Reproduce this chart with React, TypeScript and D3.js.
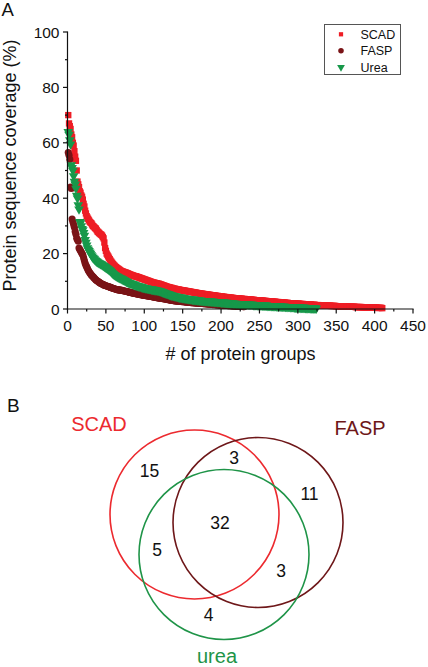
import React from "react";
import * as d3 from "d3";

// ---------------- DATA ----------------
const seriesNames = ["SCAD", "FASP", "Urea"];

const scadCoverage = [
  70, 67, 66, 65, 63, 62, 60, 59, 57, 55,
  53.5, 50, 46, 45, 44, 42.5, 42, 41, 40.5, 39.5,
  38, 37, 35.5, 34.5, 33.5, 33, 32.5, 32, 31.5, 31.2,
  31, 30.5, 30, 29.8, 29.5, 29.2, 29, 28.5, 28, 27.8,
  27.5, 27.2, 27, 26.8, 26.5, 26, 25.5, 24, 22, 21,
  20, 19.5, 19, 18.5, 18, 17.5, 17.1, 16.7, 16.3, 16,
  15.7, 15.4, 15.1, 14.9, 14.7, 14.5, 14.3, 14.1, 13.9, 13.7,
  13.6, 13.5, 13.4, 13.3, 13.2, 13.1, 13, 12.9, 12.8, 12.6,
  12.5, 12.4, 12.3, 12.2, 12.1, 12, 11.9, 11.8, 11.8, 11.7,
  11.6, 11.5, 11.4, 11.3, 11.2, 11.1, 11, 10.9, 10.8, 10.7,
  10.6, 10.5, 10.4, 10.3, 10.2, 10.1, 10, 9.9, 9.8, 9.7,
  9.6, 9.5, 9.5, 9.4, 9.3, 9.3, 9.2, 9.1, 9.1, 9,
  8.9, 8.8, 8.7, 8.6, 8.5, 8.4, 8.3, 8.2, 8.1, 8,
  7.9, 7.9, 7.8, 7.7, 7.6, 7.6, 7.5, 7.4, 7.3, 7.3,
  7.2, 7.1, 7.1, 7, 7, 6.9, 6.9, 6.8, 6.8, 6.7,
  6.7, 6.6, 6.6, 6.5, 6.5, 6.4, 6.4, 6.3, 6.3, 6.2,
  6.2, 6.1, 6.1, 6, 6, 5.9, 5.9, 5.8, 5.8, 5.7,
  5.7, 5.6, 5.6, 5.5, 5.5, 5.5, 5.4, 5.4, 5.3, 5.3,
  5.3, 5.2, 5.2, 5.1, 5.1, 5.1, 5, 5, 4.9, 4.9,
  4.9, 4.8, 4.8, 4.7, 4.7, 4.7, 4.6, 4.6, 4.5, 4.5,
  4.5, 4.4, 4.4, 4.4, 4.3, 4.3, 4.3, 4.2, 4.2, 4.2,
  4.1, 4.1, 4.1, 4, 4, 4, 3.9, 3.9, 3.9, 3.9,
  3.8, 3.8, 3.8, 3.7, 3.7, 3.7, 3.7, 3.6, 3.6, 3.6,
  3.6, 3.5, 3.5, 3.5, 3.5, 3.4, 3.4, 3.4, 3.4, 3.3,
  3.3, 3.3, 3.3, 3.2, 3.2, 3.2, 3.2, 3.1, 3.1, 3.1,
  3.1, 3, 3, 3, 3, 2.9, 2.9, 2.9, 2.9, 2.8,
  2.8, 2.8, 2.8, 2.7, 2.7, 2.7, 2.7, 2.6, 2.6, 2.6,
  2.6, 2.5, 2.5, 2.5, 2.5, 2.4, 2.4, 2.4, 2.4, 2.3,
  2.3, 2.3, 2.3, 2.2, 2.2, 2.2, 2.2, 2.1, 2.1, 2.1,
  2.1, 2.1, 2, 2, 2, 2, 2, 1.9, 1.9, 1.9,
  1.9, 1.9, 1.8, 1.8, 1.8, 1.8, 1.8, 1.7, 1.7, 1.7,
  1.7, 1.7, 1.6, 1.6, 1.6, 1.6, 1.6, 1.5, 1.5, 1.5,
  1.5, 1.5, 1.4, 1.4, 1.4, 1.4, 1.4, 1.4, 1.3, 1.3,
  1.3, 1.3, 1.3, 1.3, 1.3, 1.2, 1.2, 1.2, 1.2, 1.2,
  1.2, 1.2, 1.1, 1.1, 1.1, 1.1, 1.1, 1.1, 1.1, 1,
  1, 1, 1, 1, 1, 1, 1, 0.9, 0.9, 0.9,
  0.9, 0.9, 0.9, 0.9, 0.9, 0.8, 0.8, 0.8, 0.8, 0.8,
  0.8, 0.8, 0.8, 0.8, 0.7, 0.7, 0.7, 0.7, 0.7, 0.7,
  0.7, 0.7, 0.7, 0.6, 0.6, 0.6, 0.6, 0.6, 0.6, 0.6,
  0.6, 0.6, 0.6, 0.5, 0.5, 0.5, 0.5, 0.5, 0.5, 0.5,
  0.5, 0.5, 0.4, 0.4, 0.4, 0.4, 0.4, 0.4, 0.4, 0.3,
];

const faspCoverage = [
  56.5, 55.5, 54, 44, 43.5, 32.5, 31.5, 30.5, 29.5, 28,
  27, 25.5, 25, 24.5, 22, 21.5, 21, 20.5, 20, 19.5,
  18.5, 17.5, 16.5, 15.8, 15.2, 14.6, 14, 13.5, 13.1, 12.7,
  12.3, 12, 11.7, 11.4, 11.1, 10.8, 10.5, 10.3, 10.1, 9.9,
  9.7, 9.5, 9.3, 9.1, 9, 8.9, 8.7, 8.6, 8.5, 8.4,
  8.3, 8.2, 8.1, 8, 7.9, 7.8, 7.7, 7.6, 7.5, 7.4,
  7.3, 7.2, 7.1, 7, 7, 6.9, 6.9, 6.8, 6.8, 6.7,
  6.7, 6.6, 6.6, 6.5, 6.4, 6.4, 6.3, 6.2, 6.2, 6.1,
  6, 6, 5.9, 5.8, 5.8, 5.7, 5.6, 5.6, 5.5, 5.4,
  5.4, 5.3, 5.3, 5.2, 5.2, 5.1, 5.1, 5, 5, 4.9,
  4.9, 4.8, 4.8, 4.7, 4.7, 4.6, 4.6, 4.5, 4.5, 4.4,
  4.4, 4.3, 4.3, 4.2, 4.2, 4.1, 4.1, 4, 4, 3.9,
  3.9, 3.8, 3.8, 3.7, 3.7, 3.6, 3.6, 3.5, 3.5, 3.4,
  3.4, 3.3, 3.3, 3.2, 3.2, 3.1, 3.1, 3, 3, 2.9,
  2.9, 2.9, 2.8, 2.8, 2.8, 2.7, 2.7, 2.7, 2.6, 2.6,
  2.6, 2.6, 2.5, 2.5, 2.5, 2.5, 2.4, 2.4, 2.4, 2.4,
  2.3, 2.3, 2.3, 2.3, 2.2, 2.2, 2.2, 2.2, 2.1, 2.1,
  2.1, 2.1, 2, 2, 2, 2, 1.9, 1.9, 1.9, 1.9,
  1.8, 1.8, 1.8, 1.8, 1.7, 1.7, 1.7, 1.7, 1.6, 1.6,
  1.6, 1.6, 1.5, 1.5, 1.5, 1.5, 1.4, 1.4, 1.4, 1.4,
  1.4, 1.4, 1.4, 1.3, 1.3, 1.3, 1.3, 1.3, 1.2, 1.2,
  1.2, 1.2, 1.2, 1.1, 1.1, 1.1, 1.1, 1.1, 1, 1,
  1, 1, 1, 0.9, 0.9, 0.9, 0.9, 0.9, 0.8, 0.8,
];

const ureaCoverage = [
  64, 63, 61, 59.5, 52, 51, 50, 48, 46, 45,
  43.5, 41, 40, 37.5, 36, 31.5, 31, 30, 29, 28.5,
  27.5, 26.5, 25, 24, 23, 22, 21.5, 21, 20.5, 20,
  19.5, 19, 18.6, 18.3, 18, 17.7, 17.4, 17.2, 17, 16.8,
  16.6, 16.5, 16.3, 16.2, 16, 15.8, 15.6, 15.4, 15.2, 15,
  14.8, 14.6, 14.4, 14.2, 14, 13.7, 13.4, 13.1, 12.8, 12.6,
  12.4, 12.2, 12, 11.8, 11.7, 11.5, 11.4, 11.2, 11.1, 11,
  10.8, 10.7, 10.5, 10.4, 10.2, 10.1, 9.9, 9.8, 9.6, 9.5,
  9.4, 9.3, 9.2, 9.1, 9, 8.9, 8.8, 8.7, 8.6, 8.5,
  8.4, 8.3, 8.2, 8.1, 8.1, 8, 7.9, 7.8, 7.7, 7.7,
  7.6, 7.5, 7.5, 7.4, 7.3, 7.3, 7.2, 7.2, 7.1, 7.1,
  7, 7, 6.9, 6.9, 6.8, 6.8, 6.7, 6.7, 6.6, 6.5,
  6.4, 6.3, 6.2, 6.1, 6, 5.9, 5.8, 5.7, 5.6, 5.5,
  5.4, 5.3, 5.2, 5.1, 5, 4.9, 4.9, 4.8, 4.7, 4.6,
  4.6, 4.5, 4.4, 4.4, 4.3, 4.2, 4.2, 4.1, 4.1, 4,
  4, 3.9, 3.9, 3.8, 3.8, 3.7, 3.7, 3.6, 3.6, 3.5,
  3.5, 3.5, 3.4, 3.4, 3.4, 3.3, 3.3, 3.3, 3.2, 3.2,
  3.2, 3.1, 3.1, 3.1, 3, 3, 3, 3, 2.9, 2.9,
  2.9, 2.9, 2.8, 2.8, 2.8, 2.8, 2.7, 2.7, 2.7, 2.7,
  2.6, 2.6, 2.6, 2.6, 2.5, 2.5, 2.5, 2.5, 2.5, 2.4,
  2.4, 2.4, 2.4, 2.3, 2.3, 2.3, 2.3, 2.2, 2.2, 2.2,
  2.2, 2.1, 2.1, 2.1, 2.1, 2, 2, 2, 2, 1.9,
  1.9, 1.9, 1.9, 1.8, 1.8, 1.8, 1.8, 1.8, 1.8, 1.7,
  1.7, 1.7, 1.7, 1.7, 1.7, 1.6, 1.6, 1.6, 1.6, 1.6,
  1.6, 1.5, 1.5, 1.5, 1.5, 1.5, 1.5, 1.4, 1.4, 1.4,
  1.4, 1.4, 1.4, 1.3, 1.3, 1.3, 1.3, 1.3, 1.3, 1.2,
  1.2, 1.2, 1.2, 1.2, 1.2, 1.1, 1.1, 1.1, 1.1, 1.1,
  1.1, 1, 1, 1, 1, 1, 1, 0.9, 0.9, 0.9,
  0.9, 0.9, 0.9, 0.8, 0.8, 0.8, 0.8, 0.8, 0.8, 0.7,
  0.7, 0.7, 0.7, 0.7, 0.7, 0.6, 0.6, 0.6, 0.6, 0.6,
  0.6, 0.6, 0.5, 0.5, 0.5, 0.5, 0.5, 0.5, 0.5, 0.4,
  0.4, 0.4, 0.4, 0.4, 0.4, 0.4, 0.3, 0.3, 0.3, 0.3,
  0.3, 0.3, 0.3, 0.2,
];

const xTicks = [0, 50, 100, 150, 200, 250, 300, 350, 400, 450];
const yTicks = [0, 20, 40, 60, 80, 100];

const vennSets = ["SCAD", "FASP", "urea"];
// region counts: SCAD only, SCAD∩FASP only, FASP only, all three, SCAD∩urea only, FASP∩urea only, urea only
const vennRegionLabels = ["15", "3", "11", "32", "5", "3", "4"];

// ---------------- STYLE / LAYOUT ----------------
const FONT = "'Liberation Sans', Arial, Helvetica, sans-serif";
const RED = "#EE1D25";
const DARK = "#7A1417";
const GREEN = "#17984A";
const VENN_COLORS = ["#EC2A2F", "#6E1719", "#1F9448"];

const M = { left: 67.5, right: 413, top: 32, bottom: 309 };

export default function App() {
  const x = d3.scaleLinear().domain([0, 450]).range([M.left, M.right]);
  const y = d3.scaleLinear().domain([0, 100]).range([M.bottom, M.top]);

  const sq = d3.symbol().type(d3.symbolSquare).size(40)();
  const circ = d3.symbol().type(d3.symbolCircle).size(40)();
  const tri = d3.symbol().type(d3.symbolTriangle).size(40)();
  const sqL = d3.symbol().type(d3.symbolSquare).size(18)();
  const circL = d3.symbol().type(d3.symbolCircle).size(24)();
  const triL = d3.symbol().type(d3.symbolTriangle).size(26)();

  const xMinor = d3.range(25, 450, 50);
  const yMinor = d3.range(10, 100, 20);

  const series = [
    { name: seriesNames[0], data: scadCoverage, color: RED, path: sq, legend: sqL, flip: false },
    { name: seriesNames[1], data: faspCoverage, color: DARK, path: circ, legend: circL, flip: false },
    { name: seriesNames[2], data: ureaCoverage, color: GREEN, path: tri, legend: triL, flip: true },
  ];
  const drawOrder = [0, 1, 2];

  // Venn layout (pixel geometry)
  const vennCircles = [
    { cx: 194.5, cy: 514.5, r: 84.5 },
    { cx: 258, cy: 522.5, r: 85 },
    { cx: 224, cy: 554.5, r: 85 },
  ];
  const vennSetLabelPos = [
    { x: 99, y: 431 },
    { x: 360, y: 435 },
    { x: 217, y: 663 },
  ];
  const vennRegionPos = [
    { x: 149.5, y: 476.5 },
    { x: 234, y: 463.5 },
    { x: 309.5, y: 499.5 },
    { x: 220, y: 529 },
    { x: 157, y: 555.5 },
    { x: 281, y: 576.5 },
    { x: 208.5, y: 620.5 },
  ];

  return (
    <svg
      width={428}
      height={667}
      style={{ position: "absolute", left: 0, top: 0, background: "#fff" }}
      fontFamily={FONT}
    >
      <rect x={0} y={0} width={428} height={667} fill="#fff" />
      {/* Panel A */}
      <text x={1.5} y={16} fontSize={18.5} fill="#111">A</text>

      {/* data */}
      {drawOrder.map((si) => {
        const s = series[si];
        return (
          <g key={s.name} fill={s.color}>
            {s.data.map((v, i) => (
              <path
                key={i}
                d={s.path}
                transform={`translate(${x(i + 1)},${y(v)})${s.flip ? " rotate(180)" : ""}`}
              />
            ))}
          </g>
        );
      })}

      {/* axes */}
      <g stroke="#111" strokeWidth={1.2} fill="none">
        <line x1={M.left} x2={M.left} y1={M.top - 0.5} y2={M.bottom + 0.6} />
        <line x1={M.left - 0.6} x2={M.right + 0.6} y1={M.bottom} y2={M.bottom} />
        {xTicks.map((t) => (
          <line key={"xt" + t} x1={x(t)} x2={x(t)} y1={M.bottom} y2={M.bottom + 4.5} />
        ))}
        {xMinor.map((t) => (
          <line key={"xm" + t} x1={x(t)} x2={x(t)} y1={M.bottom} y2={M.bottom + 2.5} />
        ))}
        {yTicks.map((t) => (
          <line key={"yt" + t} x1={M.left - 4.5} x2={M.left} y1={y(t)} y2={y(t)} />
        ))}
        {yMinor.map((t) => (
          <line key={"ym" + t} x1={M.left - 2.5} x2={M.left} y1={y(t)} y2={y(t)} />
        ))}
      </g>
      <g fontSize={15.5} fill="#111">
        {xTicks.map((t) => (
          <text key={"xl" + t} x={x(t)} y={331} textAnchor="middle">{t}</text>
        ))}
        {yTicks.map((t) => (
          <text key={"yl" + t} x={M.left - 8} y={y(t) + 5.5} textAnchor="end">{t}</text>
        ))}
      </g>
      <text x={240.5} y={360} fontSize={18} textAnchor="middle" fill="#111">
        # of protein groups
      </text>
      <text
        transform={`translate(15.5,${(M.top + M.bottom) / 2 - 5}) rotate(-90)`}
        fontSize={18}
        textAnchor="middle"
        fill="#111"
      >
        Protein sequence coverage (%)
      </text>

      {/* legend */}
      <rect x={324.5} y={24.5} width={76} height={50} fill="#fff" stroke="#555" strokeWidth={1} />
      {series.map((s, i) => (
        <g key={"lg" + s.name}>
          <path
            d={s.legend}
            fill={s.color}
            transform={`translate(341,${34.3 + i * 16.5})${s.flip ? " rotate(180)" : ""}`}
          />
          <text x={360.5} y={34.3 + i * 16.5 + 4.3} fontSize={12.5} fill="#111">
            {s.name}
          </text>
        </g>
      ))}

      {/* Panel B */}
      <text x={7} y={412} fontSize={19} fill="#111">B</text>
      {vennCircles.map((c, i) => (
        <circle key={"vc" + i} cx={c.cx} cy={c.cy} r={c.r} fill="none" stroke={VENN_COLORS[i]} strokeWidth={1.6} />
      ))}
      {vennSets.map((n, i) => (
        <text
          key={"vs" + n}
          x={vennSetLabelPos[i].x}
          y={vennSetLabelPos[i].y}
          fontSize={20}
          textAnchor="middle"
          fill={VENN_COLORS[i]}
        >
          {n}
        </text>
      ))}
      {vennRegionLabels.map((l, i) => (
        <text
          key={"vr" + i}
          x={vennRegionPos[i].x}
          y={vennRegionPos[i].y}
          fontSize={17.5}
          textAnchor="middle"
          fill="#111"
        >
          {l}
        </text>
      ))}
    </svg>
  );
}
